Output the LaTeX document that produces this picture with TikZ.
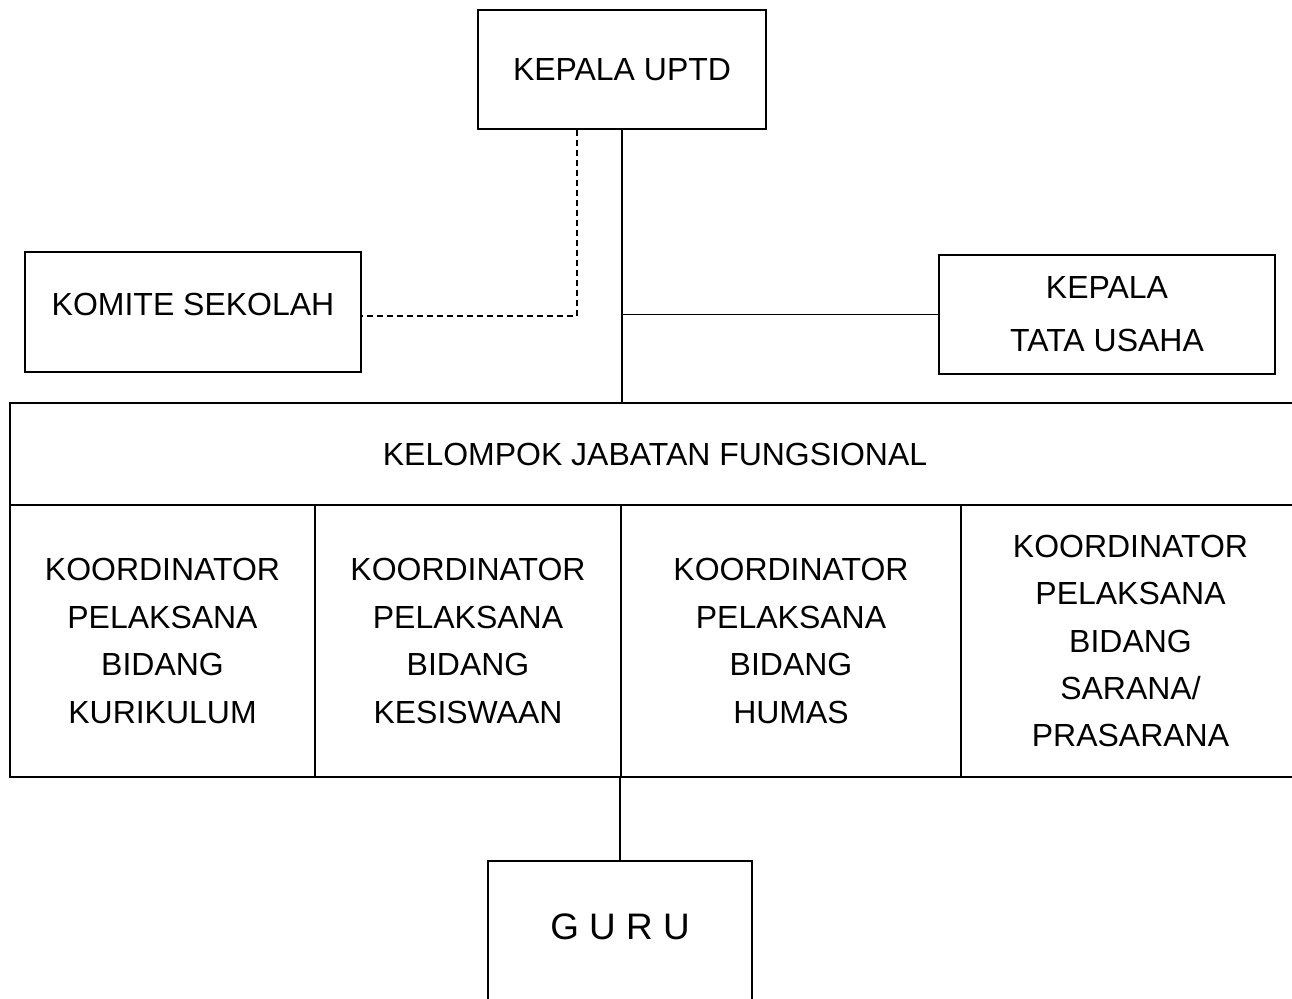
\documentclass[tikz,border=0pt]{standalone}
\usepackage{fontspec}
\setmainfont{Liberation Sans}
\usetikzlibrary{positioning}

\begin{document}
\begin{tikzpicture}[x=0.02cm,y=-0.02cm,
      orgbox/.style={draw,line width=0.85pt,align=center,inner sep=0pt,
                     font=\fontsize{18.2pt}{27pt}\selectfont},
      cellbox/.style={draw,line width=1.15pt,align=center,inner sep=0pt,
                      minimum height=5.44cm,
                      font=\fontsize{18.2pt}{27pt}\selectfont},
      link/.style={line width=0.85pt},
      lowlink/.style={line width=0.85pt,dash pattern=on 3.4pt off 2.3pt}]
    \useasboundingbox (0,0) rectangle (1292,998);

    % ---- top: Kepala UPTD ----------------------------------------------
    \node[orgbox,minimum width=5.76cm,minimum height=2.38cm] (uptd) at (622,69.5)
          {KEPALA UPTD};

    % ---- side boxes -----------------------------------------------------
    \node[orgbox,minimum width=6.72cm,minimum height=2.4cm,text depth=9pt] (komite)
          at (193,312) {KOMITE SEKOLAH};
    \node[orgbox,minimum width=6.72cm,minimum height=2.38cm,
          font=\fontsize{18.2pt}{30pt}\selectfont] (tu) at (1107,314.5)
          {KEPALA\\TATA USAHA};

    % ---- Kelompok Jabatan Fungsional -------------------------------------
    \node[cellbox,minimum width=25.8cm,minimum height=2.04cm] (kjf) at (655,454)
          {KELOMPOK JABATAN FUNGSIONAL};
    \node[cellbox,minimum width=6.1cm] (k1) at (162.5,641)
          {KOORDINATOR\\PELAKSANA\\BIDANG\\KURIKULUM};
    \node[cellbox,minimum width=6.12cm] (k2) at (468,641)
          {KOORDINATOR\\PELAKSANA\\BIDANG\\KESISWAAN};
    \node[cellbox,minimum width=6.8cm] (k3) at (791,641)
          {KOORDINATOR\\PELAKSANA\\BIDANG\\HUMAS};
    \node[cellbox,minimum width=6.78cm] (k4) at (1130.5,641)
          {KOORDINATOR\\PELAKSANA\\BIDANG\\SARANA/\\PRASARANA};

    % ---- bottom: Guru -------------------------------------------------------
    \node[orgbox,anchor=north,minimum width=5.28cm,minimum height=3cm,text depth=10pt,
          font=\fontsize{21pt}{27pt}\selectfont] (guru) at (620,860) {G U R U};

    % ---- connectors -----------------------------------------------------
    \draw[link] (uptd.south) -- (uptd.south |- kjf.north);
    \draw[link] (tu.west -| uptd.south) -- (tu.west);
    \draw[lowlink] ([xshift=-0.9cm]uptd.south) |- ([yshift=-0.08cm]komite.east);
    \draw[link] (guru.north) -- (guru.north |- k2.south);
  \end{tikzpicture}
\end{document}
